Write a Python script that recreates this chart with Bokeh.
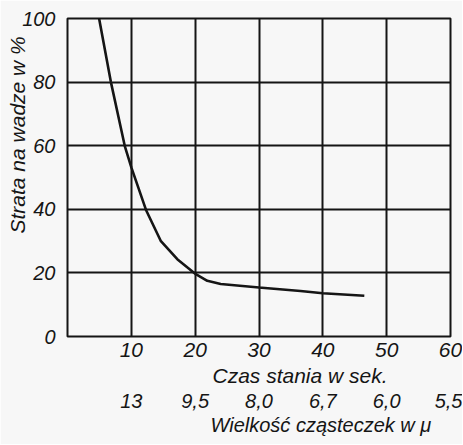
from bokeh.plotting import figure
from bokeh.models import LinearAxis, FixedTicker, Title, Range1d
from bokeh.embed import file_html
from bokeh.resources import INLINE

# data
czas = [4.95, 6.8, 9.0, 10.0, 12.3, 14.6, 17.2, 20.1, 21.9, 24.0, 30.0, 36.5, 40.0, 46.5]
strata = [100, 80, 59.7, 53.2, 39.8, 30.1, 24.3, 19.6, 17.5, 16.5, 15.4, 14.3, 13.6, 12.8]

x_ticks = [10, 20, 30, 40, 50, 60]
y_ticks = [0, 20, 40, 60, 80, 100]
size_labels = ["13", "9,5", "8,0", "6,7", "6,0", "5,5"]

x_title = "Czas stania w sek."
size_title = "Wielkość cząsteczek w μ"
y_title = "Strata na wadze w %"

FONT = "Liberation Sans"
INK = "#151515"
BG = "#f7f7f7"

p = figure(width=462, height=444, output_backend="svg", toolbar_location=None,
           x_range=Range1d(0, 60), y_range=Range1d(0, 100),
           x_axis_location=None, y_axis_location=None,
           min_border_left=67, min_border_right=12, min_border_top=18, min_border_bottom=108)
p.background_fill_color = BG
p.border_fill_color = BG
p.outline_line_color = INK
p.outline_line_width = 2

p.xgrid.ticker = FixedTicker(ticks=x_ticks)
p.ygrid.ticker = FixedTicker(ticks=y_ticks)
for g in (p.xgrid, p.ygrid):
    g.grid_line_color = INK
    g.grid_line_width = 2
    g.grid_line_alpha = 1.0

def style_axis(ax, size, standoff):
    ax.axis_line_color = None
    ax.major_tick_line_color = None
    ax.minor_tick_line_color = None
    ax.major_tick_out = 0
    ax.major_tick_in = 0
    ax.major_label_text_font = FONT
    ax.major_label_text_font_style = "italic"
    ax.major_label_text_font_size = size
    ax.major_label_text_color = INK
    ax.major_label_standoff = standoff

def make_title(text, offset, standoff, size="21px"):
    return Title(text=text, align="left", offset=offset, standoff=standoff,
                 text_font=FONT, text_font_style="italic", text_font_size=size,
                 text_color=INK)

yax = LinearAxis(ticker=FixedTicker(ticks=y_ticks))
style_axis(yax, "20px", 12)
p.add_layout(yax, "left")
p.add_layout(make_title(y_title, 103, -18), "left")

xax = LinearAxis(ticker=FixedTicker(ticks=x_ticks))
style_axis(xax, "21px", 6)
p.add_layout(xax, "below")
p.add_layout(make_title(x_title, 145, 5), "below")

xax2 = LinearAxis(ticker=FixedTicker(ticks=x_ticks),
                  major_label_overrides={t: s for t, s in zip(x_ticks, size_labels)})
style_axis(xax2, "20px", 4)
p.add_layout(xax2, "below")
p.add_layout(make_title(size_title, 143, 2, "20px"), "below")

p.line(czas, strata, line_color=INK, line_width=2.6)

open("out.html", "w").write(file_html(p, INLINE))
